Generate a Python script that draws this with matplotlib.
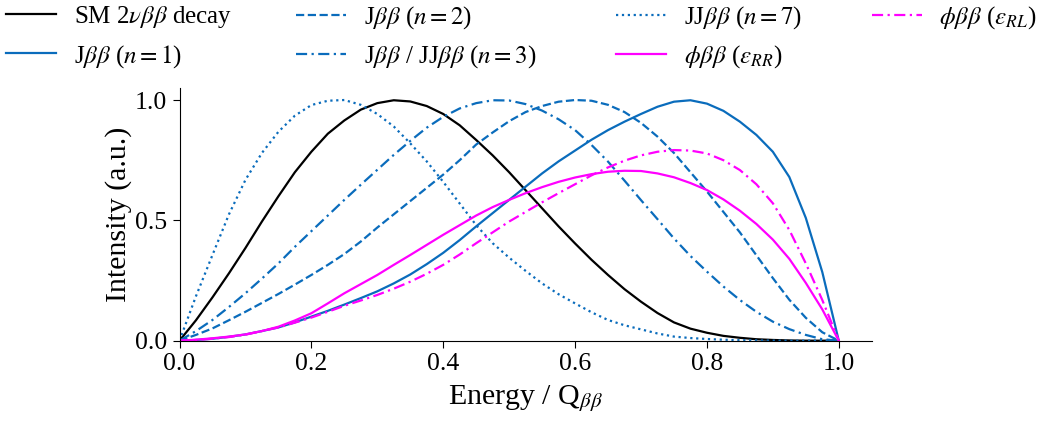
import numpy as np
import matplotlib.pyplot as plt

plt.rcParams['font.family'] = ['Liberation Serif', 'DejaVu Serif']
plt.rcParams['mathtext.fontset'] = 'stix'

# energy grid (fraction of Q)
energy = [0.0, 0.025, 0.05, 0.075, 0.1, 0.125, 0.15, 0.175, 0.2, 0.225,
          0.25, 0.275, 0.3, 0.325, 0.35, 0.375, 0.4, 0.425, 0.45, 0.475,
          0.5, 0.525, 0.55, 0.575, 0.6, 0.625, 0.65, 0.675, 0.7, 0.725,
          0.75, 0.775, 0.8, 0.825, 0.85, 0.875, 0.9, 0.925, 0.95, 0.975, 1.0]

sm_2nu = [0.0, 0.085, 0.18, 0.28, 0.385, 0.495, 0.60, 0.70, 0.785, 0.86,
          0.915, 0.96, 0.987, 0.999, 0.994, 0.975, 0.942, 0.895, 0.834, 0.77,
          0.70, 0.625, 0.55, 0.475, 0.404, 0.336, 0.273, 0.214, 0.162, 0.115,
          0.076, 0.05, 0.033, 0.02, 0.012, 0.006, 0.003, 0.001, 0.0, 0.0, 0.0]

j_n1 = [0.0, 0.003, 0.008, 0.016, 0.026, 0.04, 0.055, 0.076, 0.10, 0.124,
        0.15, 0.177, 0.205, 0.238, 0.275, 0.318, 0.365, 0.418, 0.475, 0.53,
        0.585, 0.64, 0.695, 0.745, 0.79, 0.835, 0.875, 0.91, 0.942, 0.972,
        0.993, 0.999, 0.985, 0.955, 0.91, 0.855, 0.785, 0.68, 0.51, 0.285, 0.0]

j_n2 = [0.0, 0.024, 0.051, 0.085, 0.12, 0.157, 0.194, 0.233, 0.273, 0.315,
        0.36, 0.412, 0.47, 0.525, 0.58, 0.635, 0.69, 0.75, 0.815, 0.865,
        0.912, 0.95, 0.975, 0.993, 1.0, 0.997, 0.98, 0.95, 0.905, 0.848,
        0.78, 0.70, 0.62, 0.535, 0.45, 0.355, 0.26, 0.17, 0.095, 0.035, 0.0]

j_n3 = [0.0, 0.04, 0.086, 0.14, 0.197, 0.258, 0.321, 0.39, 0.455, 0.52,
        0.585, 0.648, 0.71, 0.772, 0.83, 0.885, 0.93, 0.965, 0.987, 0.999,
        0.998, 0.983, 0.956, 0.92, 0.875, 0.813, 0.744, 0.665, 0.584, 0.505,
        0.425, 0.352, 0.287, 0.225, 0.169, 0.12, 0.079, 0.048, 0.024, 0.006, 0.0]

jj_n7 = [0.0, 0.185, 0.356, 0.525, 0.668, 0.78, 0.868, 0.935, 0.979, 0.997,
         1.0, 0.98, 0.942, 0.89, 0.82, 0.745, 0.66, 0.57, 0.48, 0.405,
         0.345, 0.29, 0.238, 0.193, 0.155, 0.118, 0.086, 0.064, 0.047, 0.03,
         0.017, 0.011, 0.007, 0.004, 0.002, 0.001, 0.0, 0.0, 0.0, 0.0, 0.0]

phi_rr = [0.0, 0.004, 0.01, 0.017, 0.026, 0.04, 0.058, 0.084, 0.114, 0.155,
          0.197, 0.235, 0.273, 0.315, 0.356, 0.398, 0.44, 0.48, 0.52, 0.555,
          0.585, 0.613, 0.638, 0.66, 0.678, 0.692, 0.702, 0.706, 0.705, 0.695,
          0.679, 0.655, 0.626, 0.587, 0.54, 0.485, 0.42, 0.34, 0.24, 0.13, 0.0]

phi_rl = [0.0, 0.003, 0.008, 0.015, 0.025, 0.04, 0.055, 0.075, 0.096, 0.12,
          0.145, 0.167, 0.19, 0.216, 0.245, 0.278, 0.315, 0.358, 0.405, 0.45,
          0.495, 0.535, 0.575, 0.613, 0.65, 0.687, 0.72, 0.748, 0.77, 0.785,
          0.792, 0.79, 0.778, 0.75, 0.709, 0.65, 0.571, 0.46, 0.321, 0.169, 0.0]

blue = '#0a6cbc'
pink = '#ff00ff'

fig = plt.figure(figsize=(10.43, 4.24), dpi=100)
ax = fig.add_axes([0.1721, 0.1965, 0.6637, 0.596])

lw = 1.6
l_sm, = ax.plot(energy, sm_2nu, color='black', lw=lw, label=r'SM 2$\nu\beta\beta$ decay')
l_n1, = ax.plot(energy, j_n1, color=blue, lw=lw, label=r'J$\beta\beta$ ($n=1$)')
l_n2, = ax.plot(energy, j_n2, color=blue, lw=lw, ls='--', label=r'J$\beta\beta$ ($n=2$)')
l_n3, = ax.plot(energy, j_n3, color=blue, lw=lw, ls=(0, (5, 2, 1, 2)),
                label=r'J$\beta\beta$ / JJ$\beta\beta$ ($n=3$)')
l_n7, = ax.plot(energy, jj_n7, color=blue, lw=lw, ls=':', label=r'JJ$\beta\beta$ ($n=7$)')
l_rr, = ax.plot(energy, phi_rr, color=pink, lw=lw, label=r'$\phi\beta\beta$ ($\epsilon_{RR}$)')
l_rl, = ax.plot(energy, phi_rl, color=pink, lw=lw, ls=(0, (5, 2, 1, 2)),
                label=r'$\phi\beta\beta$ ($\epsilon_{RL}$)')

ax.set_xlim(0, 1.05)
ax.set_ylim(0, 1.05)
ax.set_xticks([0.0, 0.2, 0.4, 0.6, 0.8, 1.0])
ax.set_yticks([0.0, 0.5, 1.0])
ax.tick_params(labelsize=18.5, direction='out', length=5, pad=4)
ax.spines['top'].set_visible(False)
ax.spines['right'].set_visible(False)
ax.set_xlabel(r'Energy / Q$_{\beta\beta}$', fontsize=21.5, labelpad=6)
ax.set_ylabel('Intensity (a.u.)', fontsize=21.5, labelpad=2)

# legend: four columns placed by hand
cols = [([l_sm, l_n1], 0.006), ([l_n2, l_n3], 0.284), ([l_n7, l_rr], 0.591), ([l_rl], 0.836)]
for handles, xpos in cols:
    leg = fig.legend(handles=handles, loc='upper left', bbox_to_anchor=(xpos, 0.99),
                     frameon=False, fontsize=18, handlelength=2.0, handletextpad=0.7,
                     labelspacing=0.5, borderpad=0, borderaxespad=0)

fig.savefig('out.png', dpi=100)
